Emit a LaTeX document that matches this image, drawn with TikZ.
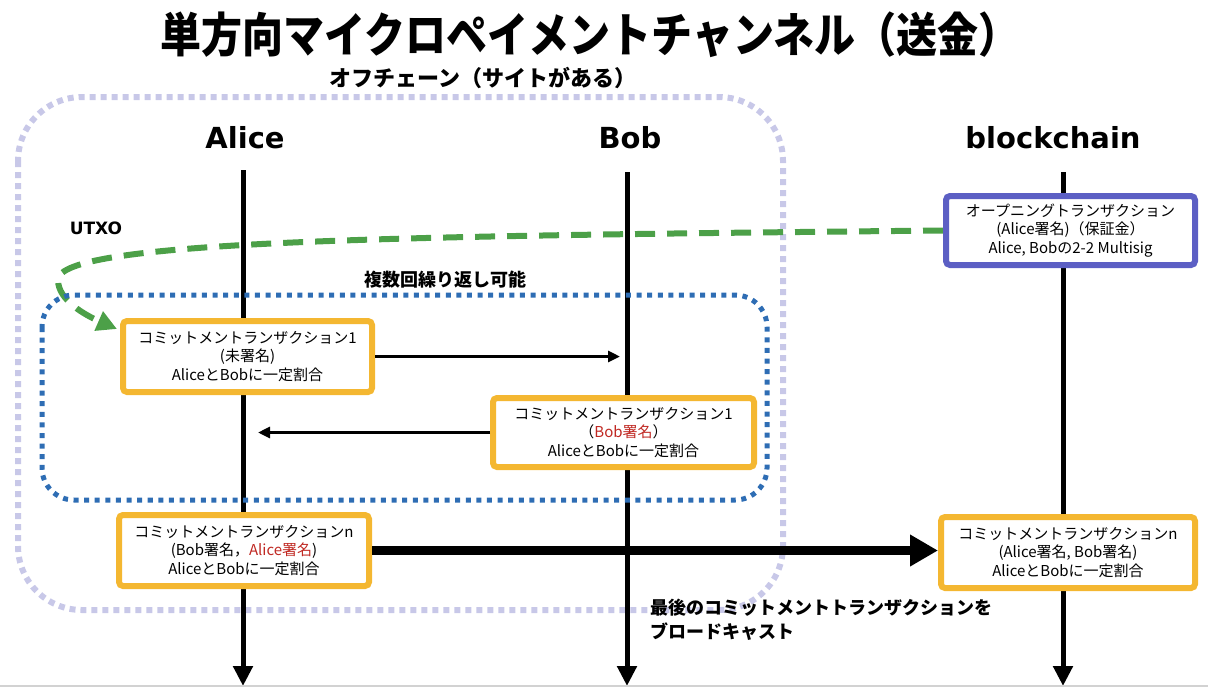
\documentclass[tikz,border=0pt]{standalone}
\usepackage{fontspec}
\setmainfont{Noto Sans CJK JP}
\newfontfamily\hdfont{DejaVu Sans}
\usepackage{xcolor}
\usetikzlibrary{arrows.meta}
\pgfdeclarelayer{bg}
\pgfsetlayers{bg,main}
\definecolor{txorange}{RGB}{244,183,49}
\definecolor{openblue}{RGB}{92,95,196}
\definecolor{utxogreen}{RGB}{76,160,72}
\definecolor{loopblue}{RGB}{46,109,180}
\definecolor{offlav}{RGB}{200,200,232}
\definecolor{sigred}{RGB}{192,40,34}

\begin{document}
\begin{tikzpicture}[x=0.5pt,y=-0.5pt,>=Stealth,
tx/.style={draw=txorange,line width=3pt,fill=white,rounded corners=2pt,align=center,inner sep=0pt,
  minimum width=124.5pt,minimum height=35.5pt,font=\fontsize{7.5}{9.3}\selectfont},
head/.style={font=\hdfont\bfseries\fontsize{14.5}{17}\selectfont},
life/.style={line width=2.5pt,-{Triangle[length=10pt,width=9.5pt]}},
msg/.style={line width=1.5pt,-{Triangle[length=6pt,width=5.5pt]}},
note/.style={font=\bfseries\fontsize{9}{12}\selectfont}]
\useasboundingbox (0,0) rectangle (1208,687);
\draw[gray!35,line width=0.6pt](0,686)--(1208,686);

\node[font=\bfseries\fontsize{20.5}{24}\selectfont] (title) at (590,35) {\scalebox{1}[1.15]{単方向マイクロペイメントチャンネル（送金）}};
\node[note,font=\bfseries\fontsize{11}{13}\selectfont] (offLabel) at (483,78) {オフチェーン（サイトがある）};

\node[head] (alice) at (245,138) {Alice};
\node[head] (bob) at (630,138) {Bob};
\node[head] (chain) at (1053,138) {blockchain};
\coordinate (aliceTop) at (243,170);
\coordinate (bobTop) at (627,172);
\coordinate (chainTop) at (1063,172);

\node[tx,draw=openblue,minimum height=34.5pt] (open) at (1070.5,230.5) {オープニングトランザクション\\(Alice署名)（保証金）\\Alice, Bobの2-2 Multisig};
\coordinate (utxoTip) at (117,329);
\node[head,font=\hdfont\bfseries\fontsize{8.5}{10}\selectfont] (utxo) at (96,228) {UTXO};

\node[note] (loopLabel) at (445,280) {複数回繰り返し可能};
\draw[loopblue,line width=2.5pt,dash pattern=on 2.5pt off 2.8pt,rounded corners=16pt](42,295) rectangle (767,500);

\node[tx] (c1) at (247.5,356.5) {コミットメントランザクション1\\(未署名)\\AliceとBobに一定割合};
\node[tx,minimum width=130.5pt,minimum height=34.5pt] (c2) at (623.5,432.5) {コミットメントランザクション1\\（\textcolor{sigred}{Bob署名}）\\AliceとBobに一定割合};
\node[tx,minimum width=125pt] (cn) at (244,550.5) {コミットメントランザクションn\\(Bob署名，\textcolor{sigred}{Alice署名})\\AliceとBobに一定割合};
\node[tx,minimum width=127pt] (cnChain) at (1068,552.5) {コミットメントランザクションn\\(Alice署名, Bob署名)\\AliceとBobに一定割合};

\draw[msg,shorten >=3.5pt](c1.east)--(c1.east-|bobTop);
\draw[msg,shorten >=7.5pt](c2.west)--(c2.west-|aliceTop);
\draw[line width=4.5pt,-{Triangle[length=14pt,width=15pt]}](cn.east)--(cn.east-|cnChain.west);

\node[note,anchor=west,align=left] (castNote) at (643,620) {最後のコミットメントトランザクションを\\ブロードキャスト};

\begin{pgfonlayer}{bg}
\draw[offlav,line width=3pt,dash pattern=on 3pt off 2.5pt,rounded corners=32pt](18,97) rectangle (783,610);
\draw[utxogreen,line width=3pt,dash pattern=on 10pt off 6pt,-{Triangle[length=10pt,width=10pt]}]
(open.west) .. controls (400,236) and (58,240) .. (58,280) .. controls (58,300) and (85,315) .. (utxoTip);
\draw[life](aliceTop)--(aliceTop|-0,686);
\draw[life](bobTop)--(bobTop|-0,686);
\draw[life](chainTop)--(chainTop|-0,686);
\end{pgfonlayer}
\end{tikzpicture}
\end{document}
